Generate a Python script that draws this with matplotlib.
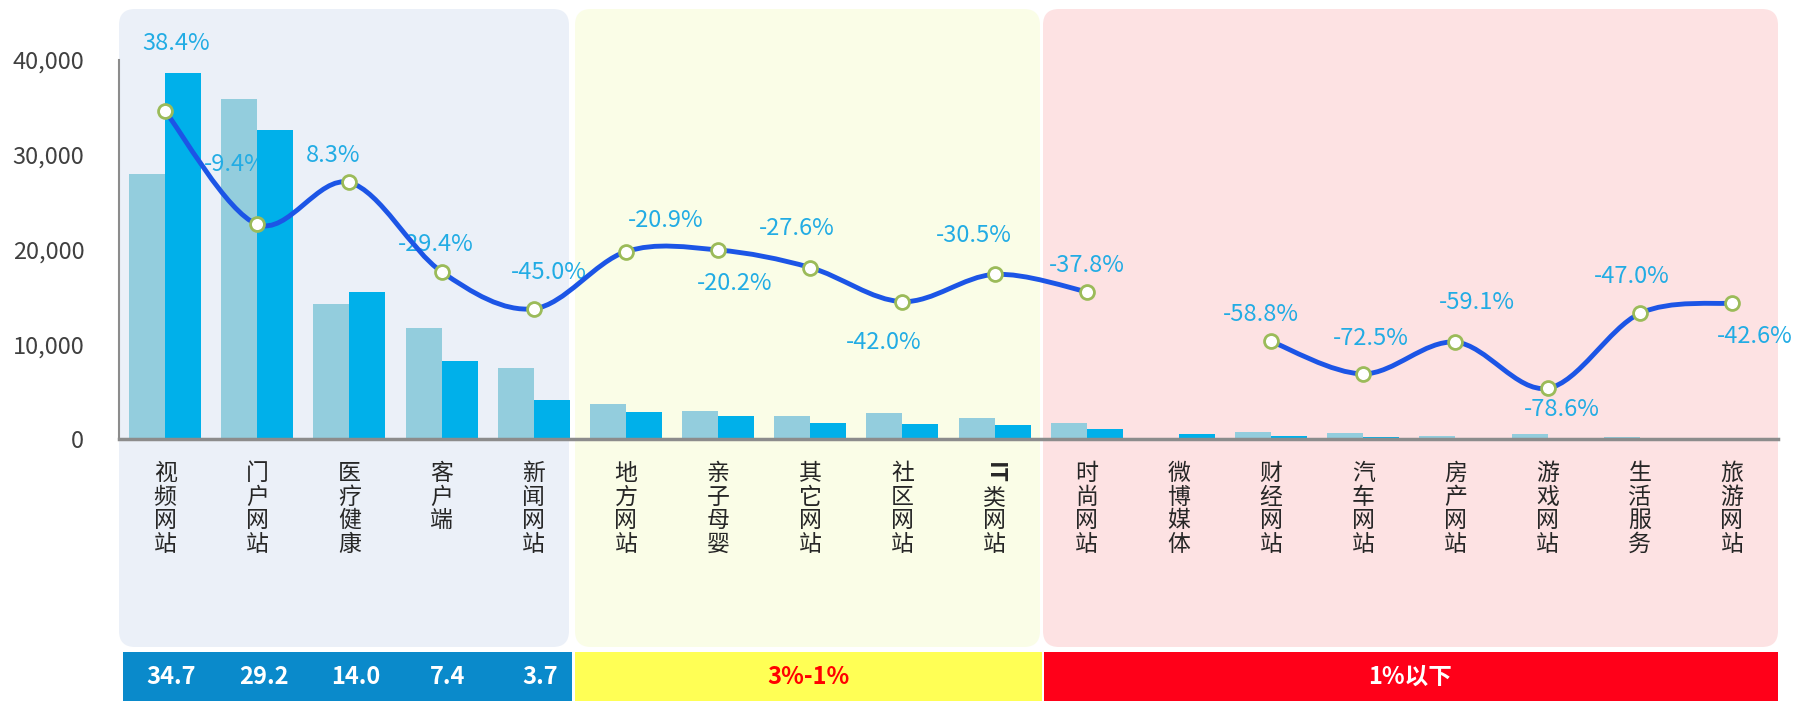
import re
import numpy as np
import matplotlib
matplotlib.use('Agg')
import matplotlib.pyplot as plt
from matplotlib.path import Path
from matplotlib.patches import PathPatch, FancyBboxPatch, Rectangle
from matplotlib.transforms import IdentityTransform, blended_transform_factory
from matplotlib.ticker import FuncFormatter

plt.rcParams['font.family'] = ['Noto Sans CJK SC', 'DejaVu Sans']

categories = ['视频网站', '门户网站', '医疗健康', '客户端', '新闻网站',
              '地方网站', '亲子母婴', '其它网站', '社区网站', 'IT类网站',
              '时尚网站', '微博媒体', '财经网站', '汽车网站', '房产网站',
              '游戏网站', '生活服务', '旅游网站']
visits_prev = [28000, 35900, 14300, 11700, 7500, 3700, 3000, 2400, 2700, 2200,
               1700, 0, 790, 640, 290, 570, 210, 80]
visits_curr = [38600, 32600, 15500, 8200, 4100, 2900, 2400, 1700, 1600, 1530,
               1060, 550, 325, 176, 120, 122, 111, 46]
growth = [38.4, -9.4, 8.3, -29.4, -45.0, -20.9, -20.2, -27.6, -42.0, -30.5,
          -37.8, None, -58.8, -72.5, -59.1, -78.6, -47.0, -42.6]
top5_share = [34.7, 29.2, 14.0, 7.4, 3.7]
group_names = ['3%-1%', '1%以下']

# where each growth label sits relative to its point (pixels, up is +)
label_offsets = [(11, 68), (-22, 60), (-16, 27), (-6, 27), (15, 36),
                 (40, 31), (17, -34), (-14, 39), (-19, -41), (-21, 39),
                 (0, 26), None, (-10, 27), (8, 35), (21, 40), (14, -21),
                 (-8, 37), (23, -33)]

W, H = 1796, 701
fig = plt.figure(figsize=(W / 100, H / 100), dpi=100)
fig.patch.set_facecolor('white')

# background panels + bottom band (figure pixels)
px = IdentityTransform()
for x0, x1, col in [(119, 569, '#EBF0F8'), (575, 1040, '#FAFDE7'), (1043, 1778, '#FDE2E3')]:
    fig.add_artist(FancyBboxPatch((x0, 54), x1 - x0, 638,
                                  boxstyle='round,pad=0,rounding_size=16',
                                  transform=px, fc=col, ec='none', zorder=-5))
for x0, x1, col in [(123, 572, '#0A8ACB'), (575, 1042, '#FFFF55'), (1044, 1778, '#FF0019')]:
    fig.add_artist(Rectangle((x0, 0), x1 - x0, 49, transform=px, fc=col, ec='none', zorder=-5))

ax = fig.add_axes([119 / W, (H - 439) / H, (1778 - 119) / W, (439 - 60) / H])
ax.set_facecolor('none')
x = np.arange(len(categories))
bw = 0.39
ax.bar(x - bw / 2, visits_prev, bw, color='#93CDDD', zorder=1)
ax.bar(x + bw / 2, visits_curr, bw, color='#00B0EA', zorder=2)
ax.set_xlim(-0.5, len(categories) - 0.5)
ax.set_ylim(0, 40000)
ax.set_yticks(range(0, 40001, 10000))
ax.yaxis.set_major_formatter(FuncFormatter(lambda v, p: f'{int(v):,}'))
ax.set_xticks([])
ax.tick_params(axis='y', length=0, pad=25, labelsize=17, labelcolor='#404040')
for s in ['top', 'right']:
    ax.spines[s].set_visible(False)
ax.spines['left'].set_color('#8C8C8C')
ax.spines['left'].set_linewidth(1.5)
ax.spines['bottom'].set_color('#8C8C8C')
ax.spines['bottom'].set_linewidth(2.5)

# growth line on hidden secondary axis
ax2 = ax.twinx()
ax2.set_ylim(-100, 60)
ax2.axis('off')
g = np.array([np.nan if v is None else v for v in growth])


def smooth_path(xs, ys):
    pts = np.column_stack([xs, ys])
    n = len(pts)
    verts = [pts[0]]
    codes = [Path.MOVETO]
    for i in range(n - 1):
        prev = pts[i - 1] if i > 0 else pts[i]
        nxt = pts[i + 2] if i + 2 < n else pts[i + 1]
        verts += [pts[i] + (pts[i + 1] - prev) / 6, pts[i + 1] - (nxt - pts[i]) / 6, pts[i + 1]]
        codes += [Path.CURVE4] * 3
    return Path(verts, codes)


ok = ~np.isnan(g)
start = None
for i in range(len(g) + 1):
    if i < len(g) and ok[i]:
        if start is None:
            start = i
    elif start is not None:
        ax2.add_patch(PathPatch(smooth_path(x[start:i], g[start:i]), fc='none',
                                ec='#1C55E6', lw=3.5, zorder=3, capstyle='round'))
        start = None
ax2.plot(x, g, 'o', ms=10, mfc='white', mec='#9BBB59', mew=2, zorder=4)

# labels sit between the two bar series, like the original
for i, v in enumerate(growth):
    if v is None:
        continue
    ax.annotate(f'{v:.1f}%', (i, v), xycoords=ax2.transData, xytext=label_offsets[i],
                textcoords='offset pixels', ha='center', va='center',
                color='#22ACE4', fontsize=17, zorder=1.5)

# vertical category labels
lab_tr = blended_transform_factory(ax.transData, ax.transAxes)
for i, name in enumerate(categories):
    for k, tok in enumerate(re.findall(r'[A-Za-z]+|.', name)):
        latin = tok.isascii()
        ax.annotate(tok, (i, 0), xycoords=lab_tr, xytext=(0, -23 - k * 23.7),
                    textcoords='offset pixels', ha='center', va='top',
                    rotation=-90 if latin else 0, fontsize=16.5,
                    fontweight='bold' if latin else 'normal',
                    color='#262626', annotation_clip=False)

# bottom band texts
band_tr = blended_transform_factory(ax.transData, px)
for i, s in enumerate(top5_share):
    fig.text(i + 0.07, 24, f'{s:.1f}', transform=band_tr, ha='center', va='center',
             color='white', fontsize=17, fontweight='bold')
fig.text(808, 24, group_names[0], transform=px, ha='center', va='center',
         color='#FF0000', fontsize=17, fontweight='bold')
fig.text(1410, 24, group_names[1], transform=px, ha='center', va='center',
         color='white', fontsize=17, fontweight='bold')

fig.savefig('out.png', dpi=100)
